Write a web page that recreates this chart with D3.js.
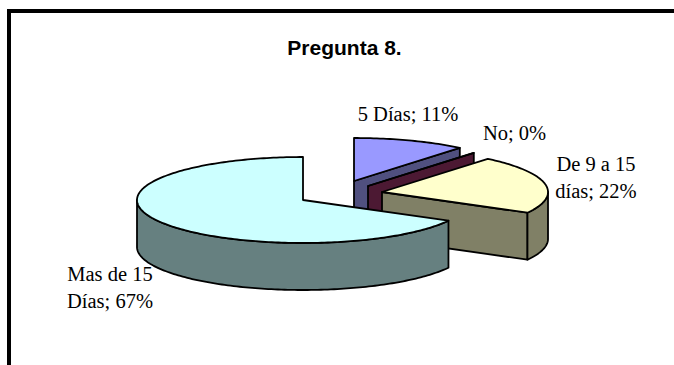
<!DOCTYPE html>
<html>
<head>
<meta charset="utf-8">
<script src="https://cdn.jsdelivr.net/npm/d3@7"></script>
<style>
  html, body { margin: 0; padding: 0; background: #fff; }
  svg { display: block; }
</style>
</head>
<body>
<svg id="chart" width="674" height="365"></svg>
<script>
const chartTitle = "Pregunta 8.";
const categories = ["5 Días", "No", "De 9 a 15 días", "Mas de 15 Días"];
const percents = [11, 0, 22, 67];
const topColors = ["#9999FF", "#993366", "#FFFFCC", "#CCFFFF"];
const wallColors = ["#50507F", "#4C1933", "#808066", "#668080"];
const sliceCenters = [[354, 181], [368, 186], [382, 192], [303, 200]];
const labelLines = [["5 Días; 11%"], ["No; 0%"], ["De 9 a 15", "días; 22%"], ["Mas de 15", "Días; 67%"]];
const labelAnchors = [[408, 121], [514.5, 140], [596, 171], [110, 281]];

const radiusX = 166, radiusY = 43, depth = 47;
const svg = d3.select("#chart");

// Frame around the chart area, open at the bottom and right
svg.append("path")
  .attr("d", "M9,365V11H674")
  .attr("fill", "none").attr("stroke", "#000").attr("stroke-width", 4);

svg.append("text")
  .attr("x", 344.5).attr("y", 55)
  .attr("text-anchor", "middle")
  .attr("font-family", "Liberation Sans, Arial, sans-serif")
  .attr("font-weight", "bold").attr("font-size", 21)
  .text(chartTitle);

const slices = d3.pie().sort(null).value(d => d)(percents);

// Tilted-disc projection: angle is clockwise from twelve o'clock
const rim = (c, a, drop = 0) => [c[0] + radiusX * Math.sin(a), c[1] - radiusY * Math.cos(a) + drop];
const arcPoints = (c, a0, a1, drop = 0) => {
  const n = Math.max(1, Math.ceil(Math.abs(a1 - a0) / 0.02));
  return d3.range(n + 1).map(i => rim(c, a0 + (a1 - a0) * i / n, drop));
};
const line = d3.line();
const half = Math.PI / 2, pi = Math.PI;

const g = svg.append("g")
  .attr("stroke", "#000").attr("stroke-width", 1.8).attr("stroke-linejoin", "round");

slices.forEach((s, i) => {
  const c = sliceCenters[i];
  const a0 = s.startAngle, a1 = s.endAngle;

  // Cut face at the closing edge, visible while it turns toward the viewer
  if (Math.sin(a1) > 0) {
    const e = rim(c, a1);
    g.append("path")
      .attr("fill", wallColors[i])
      .attr("d", line([c, e, [e[0], e[1] + depth], [c[0], c[1] + depth]]) + "Z");
  }

  // Outer wall along the front half of the rim
  const w0 = Math.max(a0, half), w1 = Math.min(a1, pi * 1.5);
  if (w1 > w0) {
    const pts = arcPoints(c, w0, w1).concat(arcPoints(c, w1, w0, depth));
    g.append("path").attr("fill", wallColors[i]).attr("d", line(pts) + "Z");
  }

  // Top surface
  g.append("path")
    .attr("fill", topColors[i])
    .attr("d", line([c].concat(arcPoints(c, a0, a1))) + "Z");
});

// Data labels
const labels = svg.append("g")
  .attr("font-family", "Liberation Serif, Times New Roman, serif")
  .attr("font-size", 20.5).attr("fill", "#000").attr("text-anchor", "middle");
labelLines.forEach((lines, i) => {
  lines.forEach((t, j) => {
    labels.append("text")
      .attr("x", labelAnchors[i][0])
      .attr("y", labelAnchors[i][1] + j * 27)
      .text(t);
  });
});
</script>
</body>
</html>
